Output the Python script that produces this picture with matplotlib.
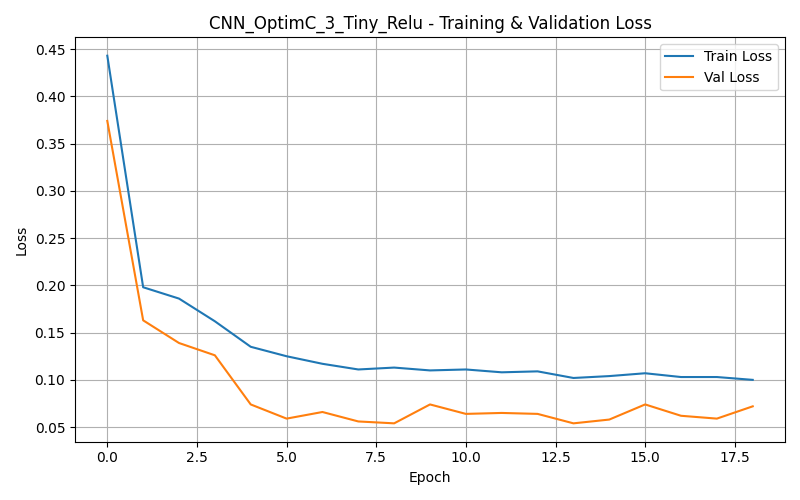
import matplotlib
matplotlib.use('Agg')
import matplotlib.pyplot as plt

epochs = list(range(19))
train_loss = [0.443, 0.198, 0.186, 0.162, 0.135, 0.125, 0.117, 0.111, 0.113, 0.110,
              0.111, 0.108, 0.109, 0.102, 0.104, 0.107, 0.103, 0.103, 0.100]
val_loss = [0.374, 0.163, 0.139, 0.126, 0.074, 0.059, 0.066, 0.056, 0.054, 0.074,
            0.064, 0.065, 0.064, 0.054, 0.058, 0.074, 0.062, 0.059, 0.072]

plt.figure(figsize=(8, 5), dpi=100)
plt.plot(epochs, train_loss, label='Train Loss')
plt.plot(epochs, val_loss, label='Val Loss')
plt.title('CNN_OptimC_3_Tiny_Relu - Training & Validation Loss')
plt.xlabel('Epoch')
plt.ylabel('Loss')
plt.legend()
plt.grid(True)
plt.tight_layout()
plt.savefig('out.png')
